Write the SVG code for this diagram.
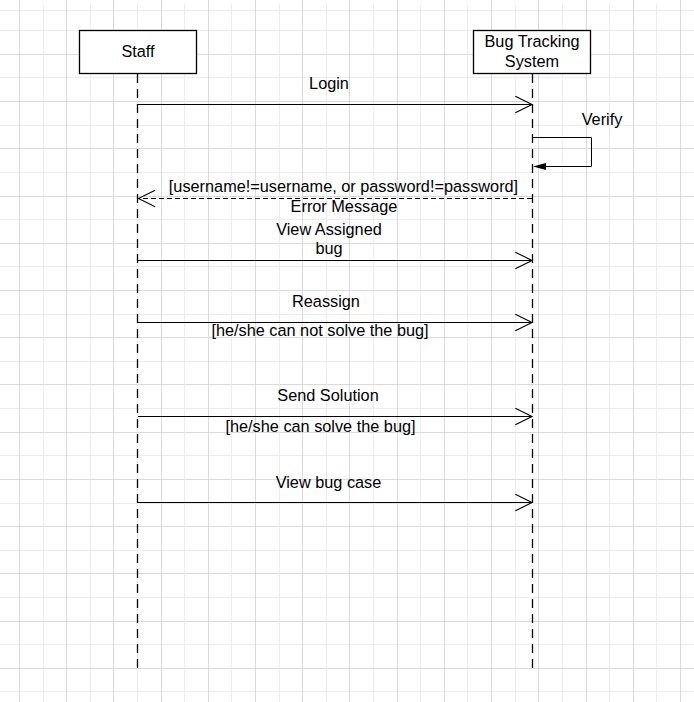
<svg xmlns="http://www.w3.org/2000/svg" width="694" height="702" viewBox="0 0 694 702">
<style>
.gd{stroke:#dadada;stroke-width:1}
.gl{stroke:#ececec;stroke-width:1}
.box{fill:#fff;stroke:#000;stroke-width:1.3}
.life{stroke:#000;stroke-width:1.3;stroke-dasharray:9 6;fill:none}
.msg{stroke:#000;stroke-width:1;fill:none}
.ret{stroke:#000;stroke-width:1;fill:none;stroke-dasharray:5 3}
text{font-family:"Liberation Sans",Arial,sans-serif;font-size:16.3px;fill:#000;text-anchor:middle}
</style>
<defs>
<marker id="open" markerUnits="userSpaceOnUse" markerWidth="20" markerHeight="20" viewBox="-16 -9 18 18" refX="0" refY="0" orient="auto">
<path d="M-15,-7.5 L0,0 L-15,7.5" fill="none" stroke="#000" stroke-width="1"/>
</marker>
</defs>
<rect width="694" height="702" fill="#fff"/>
<g id="grid">
<line class="gl" x1="0" y1="10.5" x2="694" y2="10.5"/>
<line class="gl" x1="0" y1="30.5" x2="694" y2="30.5"/>
<line class="gd" x1="0" y1="54.5" x2="694" y2="54.5"/>
<line class="gl" x1="0" y1="77.5" x2="694" y2="77.5"/>
<line class="gd" x1="0" y1="101.5" x2="694" y2="101.5"/>
<line class="gl" x1="0" y1="125.5" x2="694" y2="125.5"/>
<line class="gd" x1="0" y1="148.5" x2="694" y2="148.5"/>
<line class="gl" x1="0" y1="172.5" x2="694" y2="172.5"/>
<line class="gd" x1="0" y1="196.5" x2="694" y2="196.5"/>
<line class="gl" x1="0" y1="219.5" x2="694" y2="219.5"/>
<line class="gd" x1="0" y1="243.5" x2="694" y2="243.5"/>
<line class="gl" x1="0" y1="266.5" x2="694" y2="266.5"/>
<line class="gd" x1="0" y1="290.5" x2="694" y2="290.5"/>
<line class="gl" x1="0" y1="314.5" x2="694" y2="314.5"/>
<line class="gd" x1="0" y1="337.5" x2="694" y2="337.5"/>
<line class="gl" x1="0" y1="361.5" x2="694" y2="361.5"/>
<line class="gd" x1="0" y1="384.5" x2="694" y2="384.5"/>
<line class="gl" x1="0" y1="408.5" x2="694" y2="408.5"/>
<line class="gd" x1="0" y1="432.5" x2="694" y2="432.5"/>
<line class="gl" x1="0" y1="455.5" x2="694" y2="455.5"/>
<line class="gd" x1="0" y1="479.5" x2="694" y2="479.5"/>
<line class="gl" x1="0" y1="503.5" x2="694" y2="503.5"/>
<line class="gd" x1="0" y1="526.5" x2="694" y2="526.5"/>
<line class="gl" x1="0" y1="550.5" x2="694" y2="550.5"/>
<line class="gd" x1="0" y1="573.5" x2="694" y2="573.5"/>
<line class="gl" x1="0" y1="597.5" x2="694" y2="597.5"/>
<line class="gd" x1="0" y1="621.5" x2="694" y2="621.5"/>
<line class="gl" x1="0" y1="644.5" x2="694" y2="644.5"/>
<line class="gd" x1="0" y1="668.5" x2="694" y2="668.5"/>
<line class="gl" x1="0" y1="691.5" x2="694" y2="691.5"/>
<line class="gd" x1="19.5" y1="0" x2="19.5" y2="702"/>
<line class="gl" x1="43.5" y1="3" x2="43.5" y2="702"/>
<line class="gd" x1="66.5" y1="0" x2="66.5" y2="702"/>
<line class="gl" x1="90.5" y1="3" x2="90.5" y2="702"/>
<line class="gd" x1="113.5" y1="0" x2="113.5" y2="702"/>
<line class="gl" x1="137.5" y1="3" x2="137.5" y2="702"/>
<line class="gd" x1="161.5" y1="0" x2="161.5" y2="702"/>
<line class="gl" x1="184.5" y1="3" x2="184.5" y2="702"/>
<line class="gd" x1="208.5" y1="0" x2="208.5" y2="702"/>
<line class="gl" x1="231.5" y1="3" x2="231.5" y2="702"/>
<line class="gd" x1="255.5" y1="0" x2="255.5" y2="702"/>
<line class="gl" x1="279.5" y1="3" x2="279.5" y2="702"/>
<line class="gd" x1="302.5" y1="0" x2="302.5" y2="702"/>
<line class="gl" x1="326.5" y1="3" x2="326.5" y2="702"/>
<line class="gd" x1="349.5" y1="0" x2="349.5" y2="702"/>
<line class="gl" x1="373.5" y1="3" x2="373.5" y2="702"/>
<line class="gd" x1="397.5" y1="0" x2="397.5" y2="702"/>
<line class="gl" x1="420.5" y1="3" x2="420.5" y2="702"/>
<line class="gd" x1="444.5" y1="0" x2="444.5" y2="702"/>
<line class="gl" x1="467.5" y1="3" x2="467.5" y2="702"/>
<line class="gd" x1="491.5" y1="0" x2="491.5" y2="702"/>
<line class="gl" x1="515.5" y1="3" x2="515.5" y2="702"/>
<line class="gd" x1="538.5" y1="0" x2="538.5" y2="702"/>
<line class="gl" x1="562.5" y1="3" x2="562.5" y2="702"/>
<line class="gd" x1="586.5" y1="0" x2="586.5" y2="702"/>
<line class="gl" x1="609.5" y1="3" x2="609.5" y2="702"/>
<line class="gd" x1="633.5" y1="0" x2="633.5" y2="702"/>
<line class="gl" x1="656.5" y1="3" x2="656.5" y2="702"/>
<line class="gd" x1="680.5" y1="0" x2="680.5" y2="702"/>
</g>
<g id="staff">
<rect class="box" x="79.5" y="30.5" width="117" height="43"/>
<text x="138" y="57">Staff</text>
<line class="life" x1="137.5" y1="74" x2="137.5" y2="669"/>
</g>
<g id="bts">
<rect class="box" x="473.5" y="30.5" width="117" height="43"/>
<text x="532" y="47">Bug Tracking</text>
<text x="532" y="67">System</text>
<line class="life" x1="532.5" y1="74" x2="532.5" y2="669"/>
</g>
<g id="connectors">
<line class="msg" x1="138" y1="104.5" x2="532" y2="104.5" marker-end="url(#open)"/>
<path class="msg" d="M533,137.5 H591.5 V166.5 H546"/>
<polygon points="533,166.5 546,163 546,170" fill="#000"/>
<line class="ret" x1="532" y1="198.5" x2="138.5" y2="198.5" marker-end="url(#open)"/>
<line class="msg" x1="138" y1="260.5" x2="532" y2="260.5" marker-end="url(#open)"/>
<line class="msg" x1="138" y1="322.5" x2="532" y2="322.5" marker-end="url(#open)"/>
<line class="msg" x1="138" y1="416.5" x2="532" y2="416.5" marker-end="url(#open)"/>
<line class="msg" x1="138" y1="502.5" x2="532" y2="502.5" marker-end="url(#open)"/>
</g>
<g id="labels">
<text x="329" y="89">Login</text>
<text x="602" y="125">Verify</text>
<text x="343.5" y="192">[username!=username, or password!=password]</text>
<text x="344" y="212">Error Message</text>
<text x="329" y="235">View Assigned</text>
<text x="329" y="254">bug</text>
<text x="326" y="307">Reassign</text>
<text x="320" y="336">[he/she can not solve the bug]</text>
<text x="328" y="401">Send Solution</text>
<text x="320.5" y="432">[he/she can solve the bug]</text>
<text x="328.5" y="488">View bug case</text>
</g>
</svg>
